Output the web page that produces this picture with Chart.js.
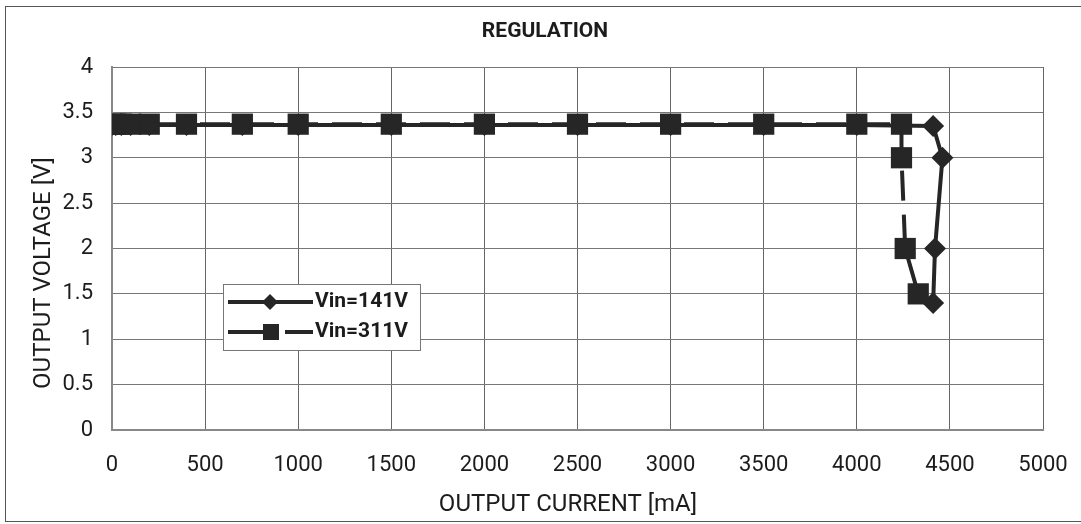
<!DOCTYPE html>
<html lang="en">
<head>
    <meta charset="UTF-8">
    <title>Regulation</title>
    <style>
        body {
            margin: 0;
            background: white;
        }

        #wrap {
            width: 1081px;
            height: 524px;
        }
    </style>
</head>
<body>
    <div id="wrap"><canvas id="chart" width="1081" height="524"></canvas></div>

<script src="https://cdn.jsdelivr.net/npm/chart.js@4"></script>
<script type="text/javascript">
    // Vin = 141V
    var current141 = [0, 20, 50, 100, 200, 400, 700, 1000, 1500, 2000, 2500, 3000, 3500, 4000, 4410, 4460, 4420, 4410];
    var voltage141 = [3.36, 3.36, 3.36, 3.36, 3.36, 3.36, 3.36, 3.36, 3.36, 3.36, 3.36, 3.36, 3.36, 3.36, 3.35, 3.0, 2.0, 1.4];
    // Vin = 311V
    var current311 = [0, 20, 50, 100, 200, 400, 700, 1000, 1500, 2000, 2500, 3000, 3500, 4000, 4240, 4240, 4260, 4330];
    var voltage311 = [3.37, 3.37, 3.37, 3.37, 3.37, 3.37, 3.37, 3.37, 3.37, 3.37, 3.37, 3.37, 3.37, 3.37, 3.37, 3.0, 2.0, 1.5];

    var seriesLabels = ['Vin=141V', 'Vin=311V'];
    var chartTitle = 'REGULATION';
    var xTitle = 'OUTPUT CURRENT [mA]';
    var yTitle = 'OUTPUT VOLTAGE [V]';

    var ink = '#262626';
    var textInk = '#1c1c1c';
    var font = 'Roboto, "Liberation Sans", Arial, sans-serif';

    function toPoints(xs, ys) {
        return xs.map(function(x, i) { return { x: x, y: ys[i] }; });
    }

    // titles, outer frame and the legend box are painted by hand
    var decorations = {
        id: 'decorations',
        beforeDraw: function(chart) {
            var ctx = chart.ctx;
            ctx.save();
            ctx.fillStyle = 'white';
            ctx.fillRect(0, 0, chart.width, chart.height);
            ctx.restore();
        },
        afterDraw: function(chart) {
            var ctx = chart.ctx;
            ctx.save();
            ctx.strokeStyle = '#555';
            ctx.lineWidth = 1;
            ctx.strokeRect(5.5, 6.5, 1080, 515);

            ctx.fillStyle = textInk;
            ctx.textAlign = 'center';
            ctx.textBaseline = 'middle';
            ctx.font = 'bold 21px ' + font;
            ctx.fillText(chartTitle, 545, 32);

            ctx.font = '24px ' + font;
            ctx.fillText(xTitle, 568, 505);

            ctx.save();
            ctx.translate(44, 273);
            ctx.rotate(-Math.PI / 2);
            ctx.fillText(yTitle, 0, 0);
            ctx.restore();

            // legend
            var lx = 223, ly = 284, lw = 197, lh = 66;
            ctx.fillStyle = 'white';
            ctx.fillRect(lx, ly, lw, lh);
            ctx.strokeStyle = '#777';
            ctx.strokeRect(lx + 0.5, ly + 0.5, lw, lh);

            ctx.strokeStyle = ink;
            ctx.fillStyle = ink;
            ctx.lineWidth = 4;
            ctx.beginPath();
            ctx.moveTo(228, 302);
            ctx.lineTo(313, 302);
            ctx.stroke();
            ctx.beginPath();
            ctx.moveTo(270, 294);
            ctx.lineTo(278, 302);
            ctx.lineTo(270, 310);
            ctx.lineTo(262, 302);
            ctx.closePath();
            ctx.fill();

            ctx.beginPath();
            ctx.moveTo(228, 332);
            ctx.lineTo(264, 332);
            ctx.moveTo(285, 332);
            ctx.lineTo(313, 332);
            ctx.stroke();
            ctx.fillRect(263, 324, 16, 16);

            ctx.fillStyle = textInk;
            ctx.textAlign = 'left';
            ctx.font = 'bold 21px ' + font;
            ctx.fillText(seriesLabels[0], 315, 302);
            ctx.fillText(seriesLabels[1], 315, 332);
            ctx.restore();
        }
    };

    var ctx = document.getElementById('chart').getContext('2d');
    var chart = new Chart(ctx, {
        type: 'scatter',
        data: {
            datasets: [{
                label: seriesLabels[0],
                data: toPoints(current141, voltage141),
                showLine: true,
                borderColor: ink,
                backgroundColor: ink,
                borderWidth: 4,
                pointStyle: 'rectRot',
                pointRadius: 11,
                pointBorderWidth: 0,
                order: 0
            }, {
                label: seriesLabels[1],
                data: toPoints(current311, voltage311),
                showLine: true,
                borderColor: ink,
                backgroundColor: ink,
                borderWidth: 4,
                borderDash: [30, 14],
                pointStyle: 'rect',
                pointRadius: 15,
                pointBorderWidth: 0,
                order: 1
            }]
        },
        options: {
            responsive: false,
            animation: false,
            layout: {
                padding: { left: 0, right: 38, top: 67, bottom: 0 }
            },
            plugins: {
                legend: { display: false },
                title: { display: false },
                tooltip: { enabled: false }
            },
            scales: {
                x: {
                    type: 'linear',
                    min: 0,
                    max: 5000,
                    border: { color: '#888', width: 2 },
                    grid: { color: '#666', lineWidth: 1, tickLength: 0 },
                    ticks: {
                        stepSize: 500,
                        padding: 22,
                        color: textInk,
                        font: { family: font, size: 22 },
                        maxRotation: 0,
                        callback: function(v) { return String(v); }
                    },
                    afterFit: function(scale) {
                        scale.height = 94;
                        scale.paddingLeft = 0;
                        scale.paddingRight = 0;
                    }
                },
                y: {
                    min: 0,
                    max: 4,
                    border: { color: '#888', width: 2 },
                    grid: { color: '#777', lineWidth: 1, tickLength: 0 },
                    ticks: {
                        stepSize: 0.5,
                        padding: 19,
                        color: textInk,
                        font: { family: font, size: 22 },
                        callback: function(v) { return String(v); }
                    },
                    afterFit: function(scale) {
                        scale.width = 112;
                        scale.paddingTop = 0;
                        scale.paddingBottom = 0;
                    }
                }
            }
        },
        plugins: [decorations]
    });
</script>
</body>
</html>
